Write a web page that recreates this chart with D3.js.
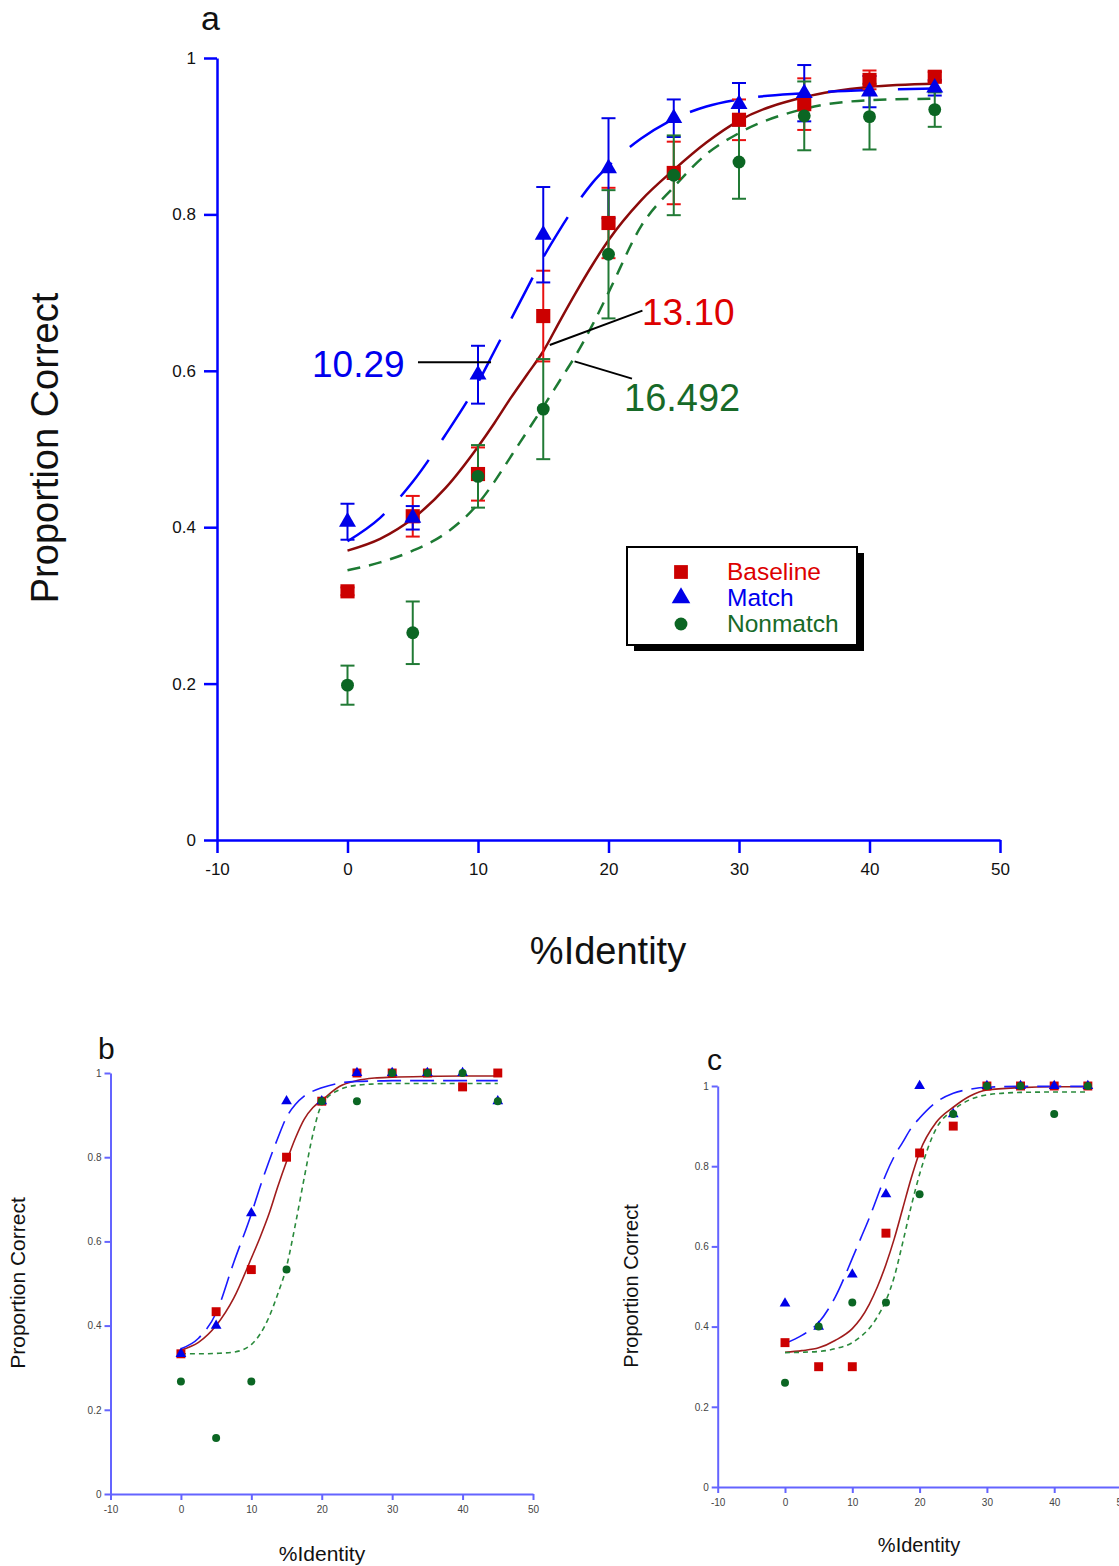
<!DOCTYPE html>
<html><head><meta charset="utf-8">
<script src="https://cdn.jsdelivr.net/npm/d3@7"></script>
<style>
body{margin:0;background:#fff}
svg{display:block}
text{font-family:"Liberation Sans",Arial,Helvetica,sans-serif}
</style>
</head><body>
<svg id="chart" width="1119" height="1566"></svg>
<script>
// ---------------- DATA ----------------
const identity = [0,5,10,15,20,25,30,35,40,45];
const xTickValues = [-10,0,10,20,30,40,50];
const yTickValues = [0,0.2,0.4,0.6,0.8,1];
const yTickLabels = ["0","0.2","0.4","0.6","0.8","1"];
const seriesNames = ["Baseline","Match","Nonmatch"];
const thresholdLabels = ["10.29","13.10","16.492"];

// Panel a: observed proportions and error bars
const aBaseline    = [0.318,0.414,0.468,0.670,0.789,0.853,0.921,0.941,0.972,0.976];
const aBaselineErr = [0.005,0.026,0.034,0.058,0.045,0.040,0.026,0.033,0.012,0.006];
const aMatch       = [0.407,0.412,0.595,0.774,0.859,0.923,0.941,0.955,0.957,0.962];
const aMatchErr    = [0.023,0.015,0.037,0.061,0.064,0.024,0.027,0.036,0.020,0.010];
const aNonmatch    = [0.198,0.265,0.465,0.551,0.749,0.850,0.867,0.926,0.925,0.934];
const aNonmatchErr = [0.025,0.040,0.040,0.064,0.082,0.051,0.047,0.044,0.042,0.022];

// fitted curves at these %Identity values
const fitX = [0,2.5,5,7.5,10,11.25,12.5,13.75,15,16.25,17.5,18.75,20,22.5,25,27.5,30,35,40,45];
const aFitBaseline = [0.370,0.385,0.411,0.450,0.503,0.533,0.565,0.595,0.625,0.663,0.700,0.735,0.767,0.818,0.857,0.892,0.920,0.950,0.963,0.967];
const aFitMatch    = [0.382,0.412,0.458,0.518,0.585,0.625,0.665,0.705,0.745,0.780,0.812,0.840,0.862,0.897,0.922,0.938,0.947,0.955,0.959,0.961];
const aFitNonmatch = [0.345,0.355,0.370,0.392,0.430,0.458,0.490,0.522,0.554,0.587,0.620,0.658,0.700,0.785,0.835,0.877,0.904,0.935,0.946,0.948];

// Panel b
const bBaseline = [0.333,0.433,0.533,0.800,0.933,1.000,1.000,1.000,0.967,1.000];
const bMatch    = [0.333,0.400,0.667,0.933,0.933,1.000,1.000,1.000,1.000,0.933];
const bNonmatch = [0.267,0.133,0.267,0.533,0.933,0.933,1.000,1.000,1.000,0.933];
const bFitBaseline = [0.342,0.360,0.400,0.465,0.560,0.610,0.665,0.730,0.790,0.845,0.890,0.918,0.935,0.968,0.982,0.988,0.990,0.992,0.993,0.993];
const bFitMatch    = [0.345,0.370,0.430,0.550,0.665,0.730,0.790,0.845,0.895,0.925,0.945,0.957,0.965,0.976,0.980,0.981,0.982,0.982,0.982,0.982];
const bFitNonmatch = [0.333,0.333,0.334,0.337,0.355,0.380,0.420,0.475,0.540,0.640,0.750,0.855,0.925,0.960,0.971,0.974,0.975,0.975,0.975,0.975];

// Panel c
const cBaseline = [0.360,0.300,0.300,0.633,0.833,0.900,1.000,1.000,1.000,1.000];
const cMatch    = [0.458,0.400,0.530,0.730,1.000,0.930,1.000,1.000,1.000,1.000];
const cNonmatch = [0.260,0.400,0.460,0.460,0.730,0.930,1.000,1.000,0.930,1.000];
const cFitBaseline = [0.336,0.340,0.347,0.366,0.395,0.420,0.455,0.500,0.555,0.620,0.695,0.770,0.835,0.910,0.947,0.975,0.990,0.996,0.998,0.998];
const cFitMatch    = [0.358,0.378,0.410,0.475,0.570,0.620,0.670,0.725,0.780,0.825,0.860,0.895,0.920,0.960,0.982,0.992,0.997,0.999,0.999,0.999];
const cFitNonmatch = [0.335,0.336,0.338,0.345,0.360,0.375,0.395,0.425,0.465,0.525,0.610,0.700,0.780,0.895,0.940,0.966,0.978,0.984,0.985,0.985];

// ---------------- DRAWING ----------------
const svg = d3.select("#chart");
const FONT = '"Liberation Sans",Arial,Helvetica,sans-serif';
const COL = {
  red:"#cc0000", redErr:"#e81010", redFit:"#8b0a0a", redText:"#dd0000",
  blue:"#0000e8", blueFit:"#0000ff", blueText:"#0000ee",
  green:"#0b6623", greenErr:"#217a35", greenFit:"#1d7a33", greenText:"#176a28"
};

function makePanel(cfg){
  const g = svg.append("g");
  const x = d3.scaleLinear().domain([-10,50]).range([cfg.x0,cfg.x1]);
  const y = d3.scaleLinear().domain([0,1]).range([cfg.y0,cfg.y1]);

  const xa = d3.axisBottom(x).tickValues(xTickValues).tickFormat(d=>String(d))
    .tickSize(cfg.tick).tickSizeOuter(0).tickPadding(cfg.xpad);
  const ya = d3.axisLeft(y).tickValues(yTickValues).tickFormat((d,i)=>yTickLabels[i])
    .tickSize(cfg.tick).tickSizeOuter(0).tickPadding(cfg.ypad);

  [[xa,`translate(0,${cfg.y0})`],[ya,`translate(${cfg.x0},0)`]].forEach(([ax,tr])=>{
    const ag = g.append("g").attr("transform",tr).call(ax);
    ag.selectAll("path.domain").attr("stroke",cfg.axisColor).attr("stroke-width",cfg.axisW);
    ag.selectAll(".tick line").attr("stroke",cfg.axisColor).attr("stroke-width",cfg.axisW);
    ag.selectAll(".tick text").attr("fill",cfg.tickColor).style("font-size",cfg.tickFont+"px").style("font-family",FONT);
  });
  return {g,x,y};
}

function drawFit(P, vals, color, width, dash){
  const line = d3.line().x((d,i)=>P.x(fitX[i])).y(d=>P.y(d)).curve(d3.curveMonotoneX);
  P.g.append("path").datum(vals).attr("d",line).attr("fill","none")
    .attr("stroke",color).attr("stroke-width",width)
    .attr("stroke-dasharray",dash||null);
}

function drawErr(P, vals, errs, color, cap, width){
  const eg = P.g.append("g").attr("stroke",color).attr("stroke-width",width);
  vals.forEach((v,i)=>{
    const cx = P.x(identity[i]), yt = P.y(v+errs[i]), yb = P.y(v-errs[i]);
    eg.append("line").attr("x1",cx).attr("x2",cx).attr("y1",yt).attr("y2",yb);
    eg.append("line").attr("x1",cx-cap/2).attr("x2",cx+cap/2).attr("y1",yt).attr("y2",yt);
    eg.append("line").attr("x1",cx-cap/2).attr("x2",cx+cap/2).attr("y1",yb).attr("y2",yb);
  });
}

function drawMarks(P, vals, type, size, color){
  const sym = d3.symbol().type(type).size(size);
  P.g.append("g").selectAll("path").data(vals).join("path")
    .attr("d",sym)
    .attr("transform",(d,i)=>`translate(${P.x(identity[i])},${P.y(d)})`)
    .attr("fill",color);
}

function addText(t, x, yy, size, color, anchor, rot){
  const el = svg.append("text").text(t).attr("fill",color)
    .style("font-size",size+"px").style("font-family",FONT)
    .attr("text-anchor",anchor||"start");
  if(rot){ el.attr("transform",`translate(${x},${yy}) rotate(${rot})`); }
  else { el.attr("x",x).attr("y",yy); }
  return el;
}

// ---------- Panel a ----------
const A = makePanel({x0:217,x1:1000,y0:840,y1:58,tick:13,xpad:10,ypad:8,
  axisColor:"#0000ff",axisW:2.5,tickColor:"#111",tickFont:17});
drawFit(A,aFitBaseline,COL.redFit,2.5,null);
drawFit(A,aFitMatch,COL.blueFit,2.5,"46,24");
drawFit(A,aFitNonmatch,COL.greenFit,2.5,"13,9");
drawErr(A,aBaseline,aBaselineErr,COL.redErr,14,2);
drawErr(A,aMatch,aMatchErr,COL.blue,14,2);
drawErr(A,aNonmatch,aNonmatchErr,COL.greenErr,14,2);
drawMarks(A,aBaseline,d3.symbolSquare,200,COL.red);
drawMarks(A,aMatch,d3.symbolTriangle,125,COL.blue);
drawMarks(A,aNonmatch,d3.symbolCircle,130,COL.green);

// threshold annotations
const ann = svg.append("g").attr("stroke","#000").attr("stroke-width",2);
ann.append("line").attr("x1",A.x(5.4)).attr("y1",A.y(0.611)).attr("x2",A.x(11.0)).attr("y2",A.y(0.611));
ann.append("line").attr("x1",A.x(15.5)).attr("y1",A.y(0.633)).attr("x2",A.x(22.6)).attr("y2",A.y(0.677));
ann.append("line").attr("x1",A.x(17.4)).attr("y1",A.y(0.612)).attr("x2",A.x(21.8)).attr("y2",A.y(0.590));
addText(thresholdLabels[0],312,377,37,COL.blueText,"start");
addText(thresholdLabels[1],642,325,37,COL.redText,"start");
addText(thresholdLabels[2],624,411,38,COL.greenText,"start");

// legend
svg.append("rect").attr("x",634).attr("y",553).attr("width",230).attr("height",98).attr("fill","#000");
svg.append("rect").attr("x",627).attr("y",547).attr("width",230).attr("height",98).attr("fill","#fff").attr("stroke","#000").attr("stroke-width",2);
const legTypes = [d3.symbolSquare,d3.symbolTriangle,d3.symbolCircle];
const legSizes = [190,150,130];
const legCols = [COL.red,COL.blue,COL.green];
const legTextCols = [COL.redText,COL.blueText,COL.greenText];
seriesNames.forEach((n,i)=>{
  const yy = 572 + i*26;
  svg.append("path").attr("d",d3.symbol().type(legTypes[i]).size(legSizes[i])()).attr("transform",`translate(681,${yy})`).attr("fill",legCols[i]);
  addText(n,727,yy+8,24.5,legTextCols[i],"start");
});

// titles panel a
addText("a",201,30,34,"#111","start");
addText("Proportion Correct",58,448,38,"#111","middle",-90);
addText("%Identity",608,964,38,"#111","middle");

// ---------- Panel b ----------
const smallAxis = {tick:6,xpad:6,ypad:3,axisColor:"#6464ff",axisW:2,tickColor:"#444",tickFont:10};
const B = makePanel(Object.assign({x0:110.5,x1:533,y0:1494,y1:1073},smallAxis));
drawFit(B,bFitBaseline,"#a01c1c",1.6,null);
drawFit(B,bFitMatch,"#1a1aff",1.6,"24,9");
drawFit(B,bFitNonmatch,"#2a8a3c",1.6,"5,4");
drawMarks(B,bBaseline,d3.symbolSquare,80,COL.red);
drawMarks(B,bMatch,d3.symbolTriangle,50,COL.blue);
drawMarks(B,bNonmatch,d3.symbolCircle,50,COL.green);
addText("b",98,1059,30,"#111","start");
addText("Proportion Correct",25,1283,21,"#111","middle",-90);
addText("%Identity",322,1561,21,"#111","middle");

// ---------- Panel c ----------
const C = makePanel(Object.assign({x0:717.7,x1:1121.5,y0:1487,y1:1086},smallAxis));
drawFit(C,cFitBaseline,"#a01c1c",1.6,null);
drawFit(C,cFitMatch,"#1a1aff",1.6,"24,9");
drawFit(C,cFitNonmatch,"#2a8a3c",1.6,"5,4");
drawMarks(C,cBaseline,d3.symbolSquare,80,COL.red);
drawMarks(C,cMatch,d3.symbolTriangle,50,COL.blue);
drawMarks(C,cNonmatch,d3.symbolCircle,50,COL.green);
addText("c",707,1070,30,"#111","start");
addText("Proportion Correct",638,1286,20,"#111","middle",-90);
addText("%Identity",919,1552,20,"#111","middle");
</script>
</body></html>
